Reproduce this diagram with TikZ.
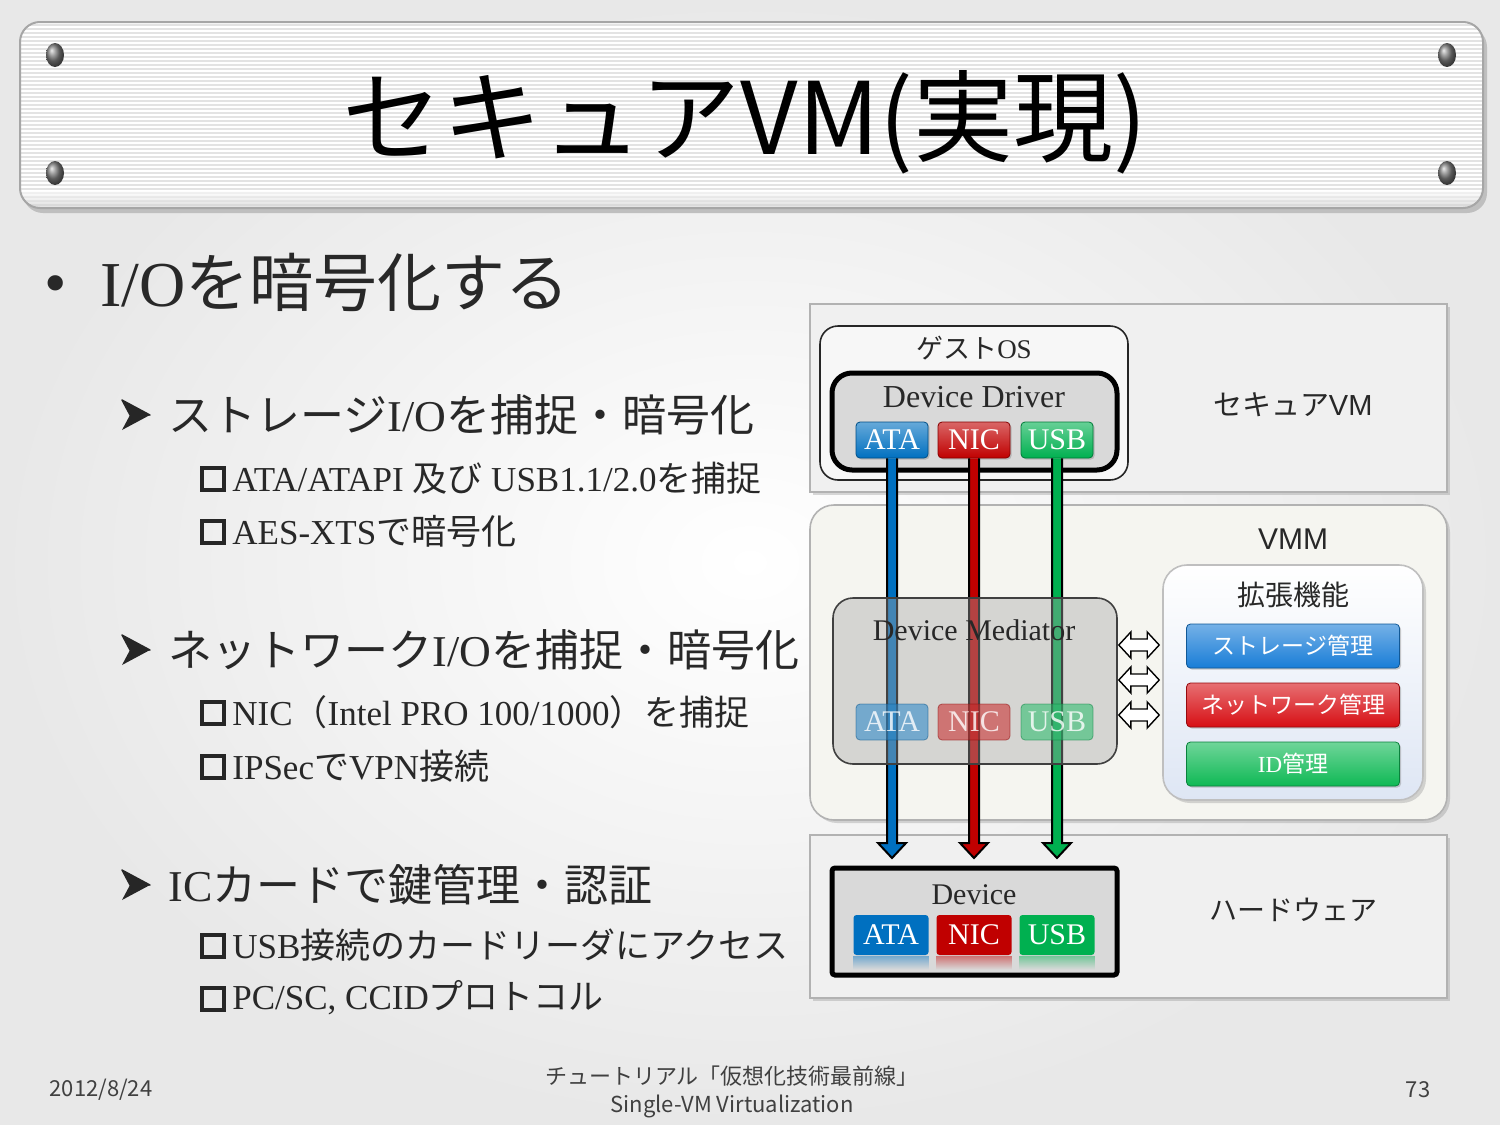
\documentclass[tikz,border=0pt]{standalone}
\usepackage{fontspec}
\setmainfont{Liberation Serif}
\newfontfamily\jp{Noto Sans CJK JP}
\newfontfamily\arial{Liberation Sans}
\usetikzlibrary{shadows,fit,calc}
\definecolor{ablue}{RGB}{0,112,192}
\definecolor{ared}{RGB}{192,0,0}
\definecolor{agreen}{RGB}{0,176,80}
\definecolor{mblue}{RGB}{25,125,215}
\definecolor{mred}{RGB}{215,15,20}
\definecolor{mgreen}{RGB}{15,185,85}
\definecolor{panel}{RGB}{240,240,240}
\definecolor{vmmfill}{RGB}{245,245,240}
\definecolor{boxgray}{RGB}{217,217,217}
\definecolor{extfill}{RGB}{222,230,244}
\definecolor{txt}{RGB}{40,40,40}
\newcommand\ioarrow[3]{%
  \draw[line width=1pt, fill=#3, line join=miter]
    ($(#1.south)+(-5,0)$) -- ($(#2)+(-5,-15)$) -- ($(#2)+(-14,-15)$) -- (#2)
    -- ($(#2)+(14,-15)$) -- ($(#2)+(5,-15)$) -- ($(#1.south)+(5,0)$);}
\newcommand\dblarrow[2]{%
  \coordinate (dL) at (#1);
  \coordinate (dR) at (#2);
  \draw[line width=0.7pt, fill=white, line join=miter]
    (dL) -- ($(dL)+(12,-13)$) -- ($(dL)+(12,-6)$) -- ($(dR)+(-12,-6)$) -- ($(dR)+(-12,-13)$) -- (dR)
    -- ($(dR)+(-12,13)$) -- ($(dR)+(-12,6)$) -- ($(dL)+(12,6)$) -- ($(dL)+(12,13)$) -- cycle;}
\newcommand\arrowbullet[1]{%
  \draw[line width=0.7pt, fill=white, line join=round, black!85]
    ($(#1)+(-14,-15)$) -- ($(#1)+(14,0)$) -- ($(#1)+(-6,0)$) -- cycle;
  \fill[black!85] ($(#1)+(-6,0)$) -- ($(#1)+(14,0)$) -- ($(#1)+(-14,15)$) -- cycle;}
\newcommand\sqbullet[1]{%
  \draw[line width=2.2pt, black!85] ($(#1)+(-11,-11)$) rectangle ($(#1)+(11,11)$);}
\tikzset{
  lbl/.style={text=txt, inner sep=0pt},
  shad/.style={drop shadow={shadow xshift=1.5pt, shadow yshift=-1.5pt, opacity=0.3}},
  panelbox/.style={draw=black!30, fill=panel, line width=0.8pt, inner sep=0pt, shad},
  vmmbox/.style={panelbox, fill=vmmfill, rounded corners=12pt},
  guestbox/.style={draw=black!85, fill=black!3, line width=0.8pt, rounded corners=9pt, inner sep=0pt},
  drvbox/.style={draw=black, fill=boxgray, line width=2.5pt, rounded corners=10pt, inner sep=0pt},
  devbox/.style={draw=black, fill=boxgray, line width=2.5pt, rounded corners=1.5pt, inner sep=0pt},
  medbox/.style={draw=black!75, fill=black!35, fill opacity=0.4, line width=0.8pt, rounded corners=10pt, inner sep=0pt},
  extbox/.style={draw=black!25, top color=white, bottom color=extfill, line width=0.8pt, rounded corners=12pt, inner sep=0pt, shad},
  btn/.style={rounded corners=2pt, draw=#1!70!black, line width=0.4pt, top color=#1!60!white, bottom color=#1,
    text=white, minimum width=36pt, minimum height=18pt, inner sep=0pt, font=\fontsize{15}{15}\selectfont,
    drop shadow={shadow xshift=0.8pt, shadow yshift=-0.8pt, opacity=0.4}},
  fbtn/.style={rounded corners=2pt, draw=#1!70!black, line width=0.4pt, fill=#1!85!white, fill opacity=0.55, draw opacity=0.5,
    text=white, text opacity=0.8, minimum width=36pt, minimum height=18pt, inner sep=0pt, font=\fontsize{15}{15}\selectfont},
  mgmt/.style={btn=#1, minimum width=106.5pt, minimum height=22pt, font=\fontsize{11.5}{11.5}\selectfont},
  hwbtn/.style={rounded corners=1.5pt, fill=#1, text=white, minimum width=37.5pt, minimum height=20pt, inner sep=0pt,
    font=\fontsize{15}{15}\selectfont},
  body1/.style={anchor=west, text=txt, inner sep=0pt, font=\fontsize{32}{36}\selectfont},
  body2/.style={anchor=west, text=txt, inner sep=0pt, font=\fontsize{22}{26}\selectfont},
  body3/.style={anchor=west, text=txt, inner sep=0pt, font=\fontsize{17.5}{21}\selectfont},
  foot/.style={text=black!75, inner sep=0pt, font=\jp\fontsize{11}{13}\selectfont},
}
\begin{document}
\begin{tikzpicture}[x=0.5pt,y=-0.5pt]
\useasboundingbox (0,0) rectangle (1500,1125);
% background
\shade[inner color=white, outer color=black!9] (0,0) rectangle (1500,1125);
% title bar
\fill[black!25, rounded corners=10pt] (23,27) rectangle (1487,213);
\begin{scope}
  \clip[rounded corners=10pt] (20,22) rectangle (1483,208);
  \fill[white] (20,22) rectangle (1483,208);
  \foreach \yy in {25,29,...,207} \draw[black!11, line width=0.8pt] (20,\yy) -- (1483,\yy);
  \shade[top color=white, bottom color=black!20, opacity=0.6] (20,190) rectangle (1483,208);
\end{scope}
\draw[black!35, line width=1pt, rounded corners=10pt] (20,22) rectangle (1483,208);
\foreach \cx/\cy in {55/55, 55/173, 1447/55, 1447/173}
  \shade[ball color=black!50] (\cx,\cy) ellipse (4.5pt and 6pt);
\node[text=black, inner sep=0pt, font=\jp\fontsize{50}{56}\selectfont] (title) at (745,122) {セキュアVM(実現)};

% bullets
\node[text=txt, inner sep=0pt, font=\fontsize{32}{36}\selectfont] (dot) at (56,290) {•};
\node[body1] (l0) at (100,282) {I/O{\jp を暗号化する}};

\arrowbullet{136,415}
\node[body2] (l1) at (168,415) {{\jp ストレージ}I/O{\jp を捕捉・暗号化}};
\sqbullet{213,479}
\node[body3] (l1a) at (232,478) {ATA/ATAPI {\jp 及び} USB1.1/2.0{\jp を捕捉}};
\sqbullet{213,532}
\node[body3] (l1b) at (232,531) {AES-XTS{\jp で暗号化}};

\arrowbullet{136,650}
\node[body2] (l2) at (168,650) {{\jp ネットワーク}I/O{\jp を捕捉・暗号化}};
\sqbullet{213,713}
\node[body3] (l2a) at (232,712) {NIC{\jp （}Intel PRO 100/1000{\jp ）を捕捉}};
\sqbullet{213,767}
\node[body3] (l2b) at (232,766) {IPSec{\jp で}VPN{\jp 接続}};

\arrowbullet{136,885}
\node[body2] (l3) at (168,885) {IC{\jp カードで鍵管理・認証}};
\sqbullet{213,946}
\node[body3] (l3a) at (232,945) {USB{\jp 接続のカードリーダにアクセス}};
\sqbullet{213,999}
\node[body3] (l3b) at (232,998) {PC/SC, CCID{\jp プロトコル}};

% ===== diagram =====
\node[panelbox, fit={(810,304) (1447,492)}] (svm) {};
\node[lbl, font=\fontsize{14.5}{16}\selectfont] (svmlbl) at (1293,405) {{\jp セキュア}\arial VM};
\node[vmmbox, fit={(810,505) (1447,820)}] (vmm) {};
\node[lbl, font=\arial\fontsize{15}{17}\selectfont] (vmmlbl) at (1293,539) {VMM};
\node[panelbox, fit={(810,835) (1447,998)}] (hw) {};
\node[lbl, font=\jp\fontsize{14}{16}\selectfont] (hwlbl) at (1293,910) {ハードウェア};

\node[guestbox, fit={(820,326) (1128,480)}] (guest) {};
\node[lbl, font=\fontsize{13.5}{15}\selectfont] (guestlbl) at (974,348) {{\jp ゲスト}OS};
\node[drvbox, fit={(832,373) (1117,470)}] (drv) {};
\node[lbl, font=\fontsize{16}{18}\selectfont] (drvlbl) at (974,397) {Device Driver};
\node[btn=ablue] (ataD) at (892,440) {ATA};
\node[btn=ared] (nicD) at (974,440) {NIC};
\node[btn=agreen] (usbD) at (1057,440) {USB};

% device
\node[devbox, fit={(832,868) (1117,975)}] (dev) {};
\node[lbl, font=\fontsize{15}{17}\selectfont] (devlbl) at (974,895) {Device};
\node[hwbtn=ablue] (ataH) at (891,935) {ATA};
\node[hwbtn=ared] (nicH) at (974,935) {NIC};
\node[hwbtn=agreen] (usbH) at (1057,935) {USB};
\foreach \b/\c in {ataH/ablue, nicH/ared, usbH/agreen}
  \shade[top color=\c!45!boxgray, bottom color=boxgray] ($(\b.south west)+(0,1)$) rectangle ($(\b.south east)+(0,14)$);

% io arrows
\coordinate (ataEnd) at (892,858);
\coordinate (nicEnd) at (974,858);
\coordinate (usbEnd) at (1057,858);
\ioarrow{ataD}{ataEnd}{ablue}
\ioarrow{nicD}{nicEnd}{ared}
\ioarrow{usbD}{usbEnd}{agreen}

% mediator
\node[medbox, fit={(833,598) (1117,764)}] (med) {};
\node[lbl, font=\fontsize{15}{17}\selectfont] (medlbl) at (974,630) {Device Mediator};
\node[fbtn=ablue] (ataM) at (892,722) {ATA};
\node[fbtn=ared] (nicM) at (974,722) {NIC};
\node[fbtn=agreen] (usbM) at (1057,722) {USB};

% extension
\node[extbox, fit={(1163,565) (1423,800)}] (ext) {};
\node[lbl, font=\jp\fontsize{14}{16}\selectfont] (extlbl) at (1293,595) {拡張機能};
\node[mgmt=mblue] (stor) at (1293,646) {\jp ストレージ管理};
\node[mgmt=mred] (net) at (1293,705) {\jp ネットワーク管理};
\node[mgmt=mgreen] (idm) at (1293,764) {ID{\jp 管理}};

% mediator <-> extension
\dblarrow{$(med.east)+(1,-36)$}{$(ext.west)+(-3,-37.5)$}
\dblarrow{$(med.east)+(1,-1)$}{$(ext.west)+(-3,-2.5)$}
\dblarrow{$(med.east)+(1,34)$}{$(ext.west)+(-3,32.5)$}

% footer
\node[foot] (date) at (101,1090) {2012/8/24};
\node[foot] (f1) at (732,1076) {チュートリアル「仮想化技術最前線」};
\node[foot] (f2) at (732,1106) {Single-VM Virtualization};
\node[foot] (pg) at (1418,1090) {73};
\end{tikzpicture}
\end{document}
